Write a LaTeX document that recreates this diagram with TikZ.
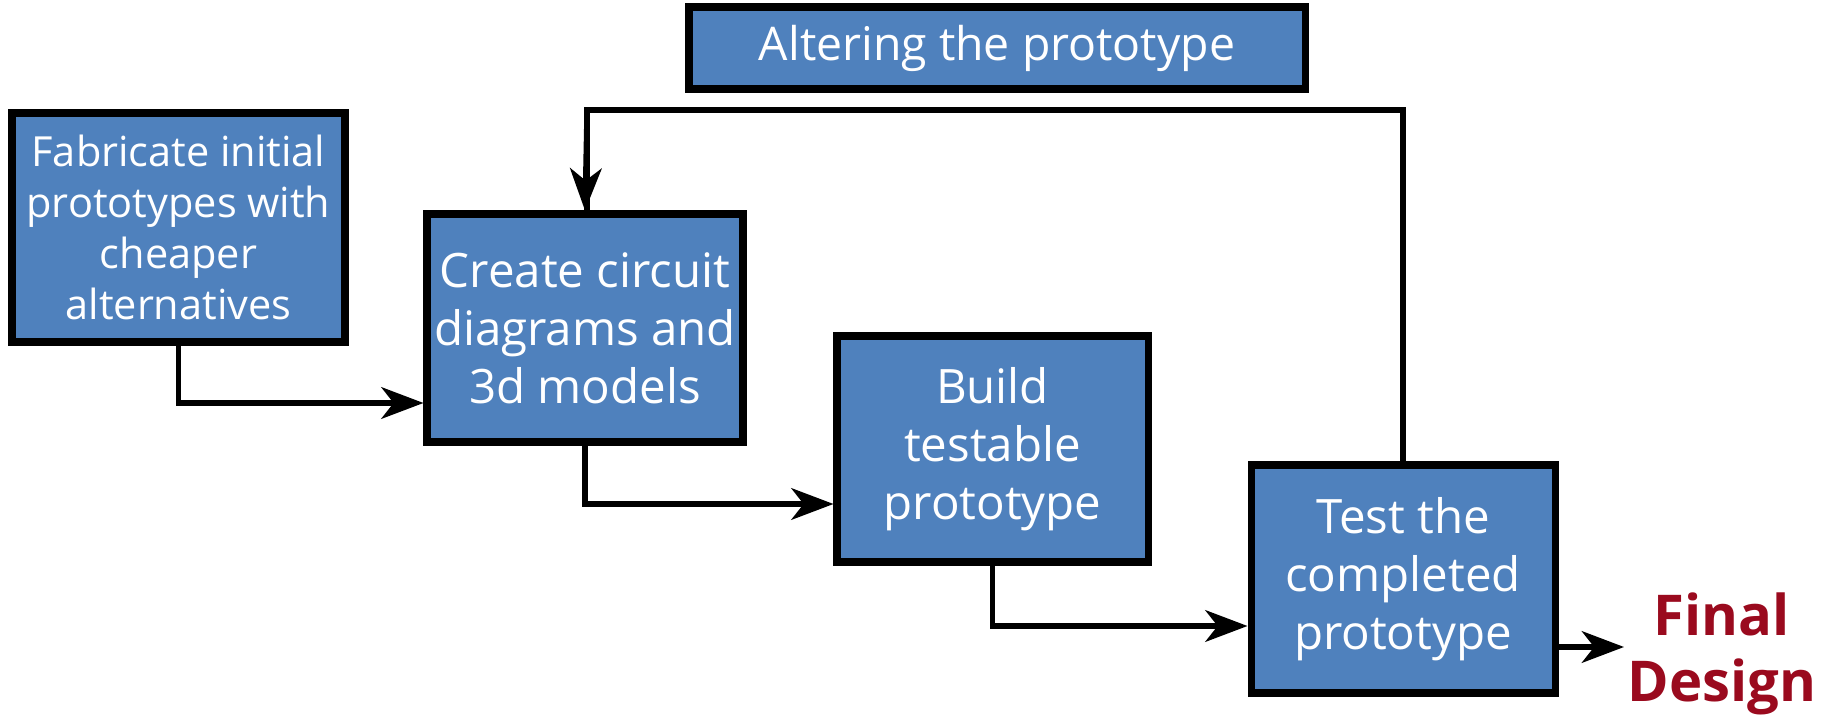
\documentclass[tikz,border=0pt]{standalone}
\usepackage{fontspec}
\setmainfont{Open Sans}
\usepackage{xcolor}
\usepackage{tikz}
\usetikzlibrary{positioning,calc,arrows.meta}
\definecolor{stageblue}{HTML}{4F81BD}
\definecolor{finalred}{HTML}{9A0A1E}

\begin{document}
\begin{tikzpicture}[
    stage/.style={draw=black, line width=2pt, fill=stageblue, text=white, align=center, font=\fontsize{13.5}{16.5}\selectfont, inner sep=2pt},
    flow/.style={-{Stealth[length=12pt, width=9pt, inset=3.5pt]}, line width=1.5pt}
]
    \useasboundingbox (0,0) rectangle (18.22,7.16);
    \node[stage, minimum width=3.33cm, minimum height=2.29cm, font=\fontsize{11.8}{14.5}\selectfont] (fab) at (1.785,4.885) {Fabricate initial\\prototypes with\\cheaper\\alternatives};
    \node[stage, minimum width=3.10cm, minimum height=2.28cm] (circ) at (5.85,3.88) {Create circuit\\diagrams and\\3d models};
    \node[stage, minimum width=3.11cm, minimum height=2.26cm] (build) at (9.925,2.67) {Build\\testable\\prototype};
    \node[stage, minimum width=3.04cm, minimum height=2.28cm] (test) at (14.03,1.37) {Test the\\completed\\prototype};
    \node[stage, minimum width=6.16cm, minimum height=0.82cm, font=\fontsize{13.2}{16}\selectfont] (alter) at (9.97,6.68) {Altering the prototype};
    \node[text=finalred, align=center, font=\fontsize{16}{19}\selectfont\bfseries] (final) at (17.22,0.62) {Final\\Design};

    \draw[flow] (fab.south) |- ([yshift=-0.75cm]circ.west);
    \draw[flow] (circ.south) |- ([yshift=-0.55cm]build.west);
    \draw[flow] (build.south) |- ([yshift=-0.47cm]test.west);
    \coordinate (out) at (16.24,0.69);
    \draw[flow] ([yshift=-0.68cm]test.east) -- (out);
    \coordinate (loop) at (0,6.06);
    \draw[line width=1.5pt] (test.north) -- (test.north |- loop) -| ([xshift=0.02cm]circ.north);
    \draw[flow] ($(circ.north)+(0.02,1)$) -- (circ.north);
\end{tikzpicture}
\end{document}
